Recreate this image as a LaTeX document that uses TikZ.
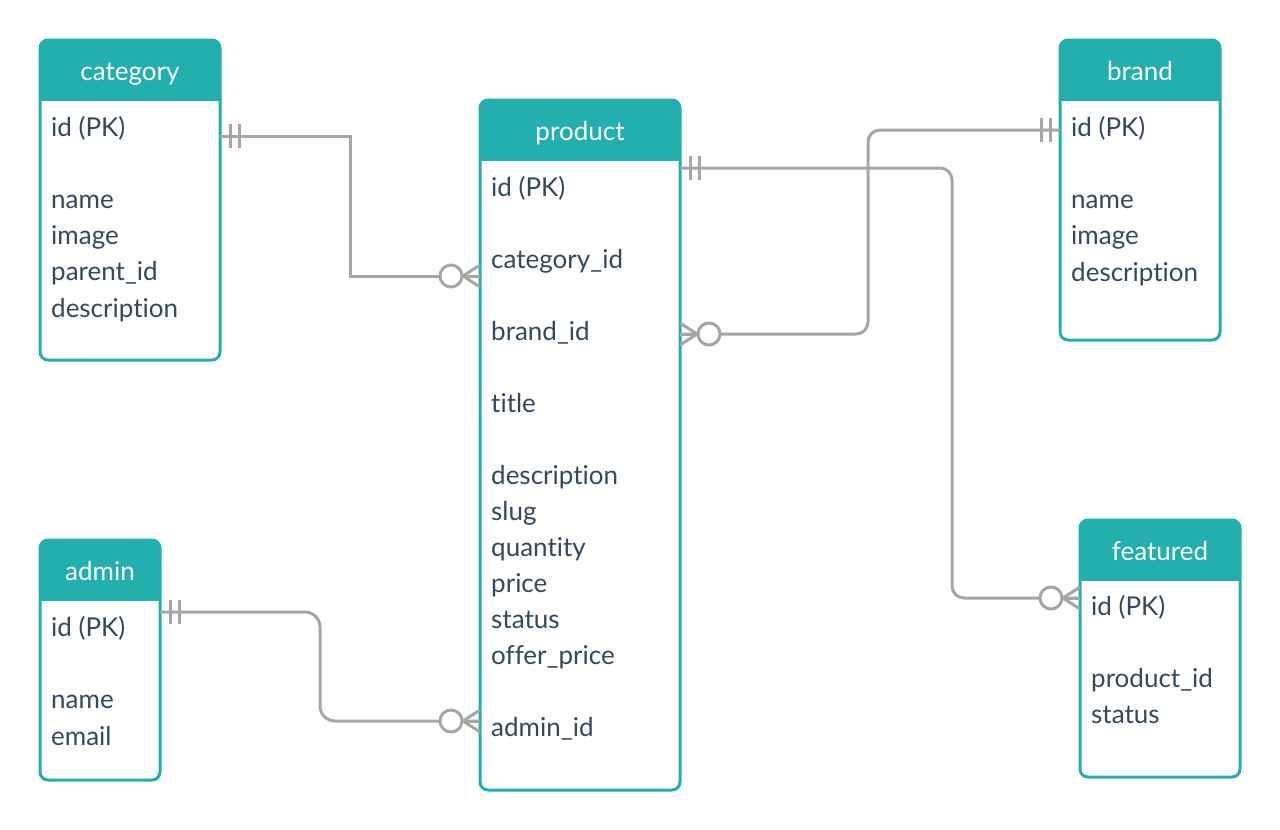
\documentclass[tikz,border=0pt]{standalone}
\usepackage{fontspec}
\setmainfont{Lato}[Ligatures={NoCommon,NoRare}]
\definecolor{erteal}{HTML}{23AFAE}
\definecolor{ertext}{HTML}{34495E}
\definecolor{ergray}{HTML}{A6A6A6}
\tikzset{
  tbl/.style={draw=erteal, line width=3pt, rounded corners=8pt, fill=white, anchor=north west, inner sep=0pt, outer sep=0pt},
  fld/.style={anchor=base west, text=ertext, font=\fontsize{26}{30}\selectfont, inner sep=0pt},
  ttl/.style={anchor=base, text=white, font=\fontsize{26}{30}\selectfont, inner sep=0pt},
  conn/.style={draw=ergray, line width=3pt},
  pics/erone/.style={code={\draw[conn] (10,-12) -- (10,12); \draw[conn] (19,-12) -- (19,12);}},
  pics/ermany/.style={code={\draw[conn] (0,-11) -- (-17,0) -- (0,11); \draw[conn] (0,0) -- (-17,0); \draw[conn, fill=white] (-29,0) circle (11pt);}},
}
\newcommand\ertable[6]{%
  \node[tbl, minimum width=#4pt, minimum height=#5pt] (#1) at (#2,#3) {};
  \begin{scope}
    \clip (#2-3,#3-3) rectangle (#2+#4+3,#3+60);
    \fill[erteal, rounded corners=8pt] (#2,#3) rectangle (#2+#4,#3+#5);
  \end{scope}
  \node[ttl] (#1-t) at (#2+#4/2,#3+40) {#6};
}
\begin{document}
\begin{tikzpicture}[x=1pt,y=-1pt]
\useasboundingbox[fill=white] (0,0) rectangle (1280,830);

\ertable{cat}{40}{40}{180}{320}{category}
\ertable{prod}{480}{100}{200}{690}{product}
\ertable{brand}{1060}{40}{160}{300}{brand}
\ertable{adm}{40}{540}{120}{240}{admin}
\ertable{feat}{1080}{520}{160}{257}{featured}

% category fields
\node[fld] (cat-id) at (51,136) {id (PK)};
\node[fld] (cat-name) at (51,208) {name};
\node[fld] (cat-image) at (51,244) {image};
\node[fld] (cat-parent) at (51,280) {parent\_id};
\node[fld] (cat-desc) at (51,317) {description};

% product fields
\node[fld] (p-id) at (491,196) {id (PK)};
\node[fld] (p-cat) at (491,268) {category\_id};
\node[fld] (p-brand) at (491,340) {brand\_id};
\node[fld] (p-title) at (491,412) {title};
\node[fld] (p-desc) at (491,484) {description};
\node[fld] (p-slug) at (491,520) {slug};
\node[fld] (p-qty) at (491,556) {quantity};
\node[fld] (p-price) at (491,592) {price};
\node[fld] (p-status) at (491,628) {status};
\node[fld] (p-offer) at (491,664) {offer\_price};
\node[fld] (p-admin) at (491,736) {admin\_id};

% brand fields
\node[fld] (b-id) at (1071,136) {id (PK)};
\node[fld] (b-name) at (1071,208) {name};
\node[fld] (b-image) at (1071,244) {image};
\node[fld] (b-desc) at (1071,281) {description};

% admin fields
\node[fld] (a-id) at (51,636) {id (PK)};
\node[fld] (a-name) at (51,708) {name};
\node[fld] (a-email) at (51,745) {email};

% featured fields
\node[fld] (f-id) at (1091,615) {id (PK)};
\node[fld] (f-prod) at (1091,687) {product\_id};
\node[fld] (f-status) at (1091,723) {status};

% connector end points
\coordinate (c1s) at (cat.east |- 0,136);
\coordinate (c1e) at (prod.west |- 0,276);
\coordinate (c2s) at (prod.east |- 0,168);
\coordinate (c2e) at (feat.west |- 0,598);
\coordinate (c3s) at (prod.east |- 0,334);
\coordinate (c3e) at (brand.west |- 0,130);
\coordinate (c4s) at (adm.east |- 0,612);
\coordinate (c4e) at (prod.west |- 0,721);

\draw[conn] (c1s) -- (350,136) |- (c1e);
\draw[conn, rounded corners=12pt] (c2s) -- (952,168) |- (c2e);
\draw[conn, rounded corners=12pt] (c3s) -- (868,334) |- (c3e);
\draw[conn, rounded corners=15pt] (c4s) -- (320,612) |- (c4e);

\pic at (c1s) {erone};
\pic at (c1e) {ermany};
\pic at (c2s) {erone};
\pic at (c2e) {ermany};
\pic[rotate=180] at (c3s) {ermany};
\pic[rotate=180] at (c3e) {erone};
\pic at (c4s) {erone};
\pic at (c4e) {ermany};
\end{tikzpicture}
\end{document}
